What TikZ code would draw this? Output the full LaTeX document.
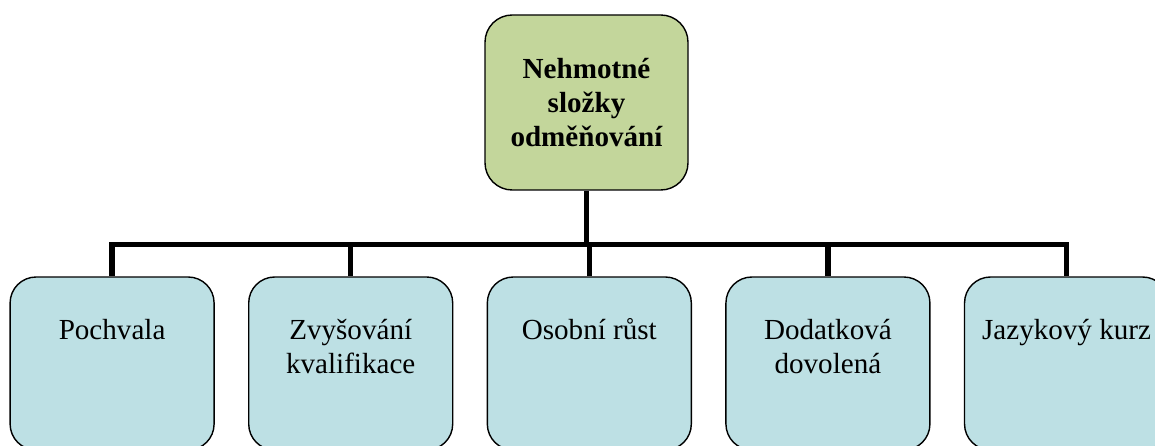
\documentclass[tikz,border=0pt]{standalone}
\usepackage{fontspec}
\setmainfont{Liberation Serif}
\usetikzlibrary{positioning,calc}
\definecolor{rootgreen}{HTML}{C3D69B}
\definecolor{childblue}{HTML}{BDE0E4}
\newcommand{\boxtext}[1]{\begin{tabular}[t]{@{}c@{}}#1\end{tabular}}

\begin{document}
\begin{tikzpicture}[
  every node/.style={font=\fontsize{20.7}{24.4}\selectfont},
  rootbox/.style={draw, rounded corners=0.68cm, fill=rootgreen, line width=1pt, minimum width=5.075cm, minimum height=4.375cm, align=center, font=\fontsize{20.7}{24.4}\selectfont\bfseries},
  childbox/.style={draw, rounded corners=0.65cm, fill=childblue, line width=1pt, minimum width=5.1cm, inner ysep=0pt, text height=1.55cm, text depth=2.775cm},
  conn/.style={line width=3.9pt},
  node distance=0.83cm
]
\useasboundingbox (0,0) rectangle (28.875,-11.15);
\node[rootbox] (root) at (14.6625,-2.5625) {Nehmotné\\složky\\odměňování};
\coordinate (hub) at (14.6625,-6.1125);
% five boxes in a row
\node[childbox] (pochvala) at (2.8025,-9.0875) {\boxtext{Pochvala}};
\node[childbox, right=of pochvala] (kvalif) {\boxtext{Zvyšování\\kvalifikace}};
\node[childbox, right=of kvalif] (rust) {\boxtext{Osobní růst}};
\node[childbox, right=of rust] (dovolena) {\boxtext{Dodatková\\dovolená}};
\node[childbox, right=of dovolena] (kurz) {\boxtext{Jazykový kurz}};
% connectors
\draw[conn] (root.south) -- (hub);
\foreach \c in {pochvala,kvalif,rust,dovolena,kurz}
  \draw[conn] (hub) -| (\c.north);
\end{tikzpicture}
\end{document}
